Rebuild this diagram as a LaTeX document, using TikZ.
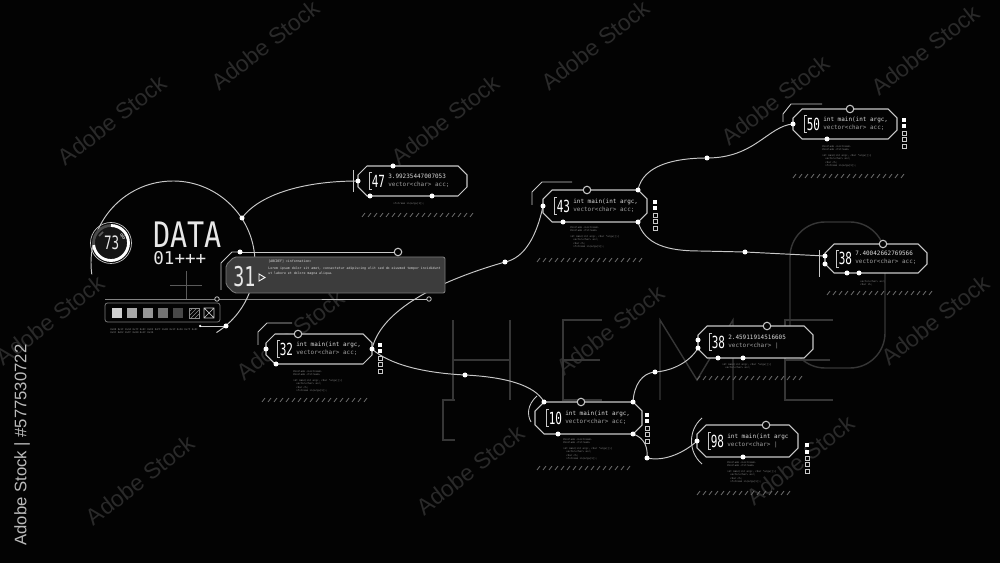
\documentclass[tikz,border=0pt]{standalone}
\usepackage{graphicx}
\usepackage{fontspec}
\setmainfont{DejaVu Sans Mono}
\newfontfamily\wmfont{Liberation Sans}
\usetikzlibrary{calc}
\definecolor{bg}{HTML}{030303}
\definecolor{ln}{HTML}{C8C8C8}
\definecolor{faint}{HTML}{363636}
\definecolor{hatchc}{HTML}{707070}
\definecolor{wm}{HTML}{2A2A2A}
\definecolor{codec}{HTML}{DADADA}
\definecolor{codec2}{HTML}{A0A0A0}
\definecolor{tinyc}{HTML}{8C8C8C}
\definecolor{panel}{HTML}{3C3C3C}
\definecolor{panelb}{HTML}{7A7A7A}
\definecolor{sw1}{HTML}{D0D0D0}
\definecolor{sw2}{HTML}{A8A8A8}
\definecolor{sw3}{HTML}{969696}
\definecolor{sw4}{HTML}{747474}
\definecolor{sw5}{HTML}{484848}
\definecolor{ringbg}{HTML}{151515}
\definecolor{ringdark}{HTML}{4A4A4A}
\definecolor{dimline}{HTML}{5A5A5A}
\definecolor{sidec}{HTML}{BBBBBB}
\definecolor{bright}{HTML}{E8E8E8}
\tikzset{
  wire/.style={draw=ln, line width=0.55pt},
  boxline/.style={draw=ln, line width=0.6pt, fill=bg},
  frameline/.style={draw=ln, line width=0.5pt},
  dotw/.style={circle, fill=white, draw=none, inner sep=0pt, minimum size=0.1cm},
  hring/.style={circle, fill=bg, draw=ln, line width=0.6pt, inner sep=0pt, minimum size=0.15cm},
  sring/.style={circle, fill=bg, draw=ln, line width=0.45pt, inner sep=0pt, minimum size=0.09cm},
  num/.style={font=\fontsize{9.5pt}{9.5pt}\selectfont, text=white, anchor=base west, inner sep=0pt},
  code/.style={font=\fontsize{3.4pt}{4.6pt}\selectfont, text=codec, anchor=north west, inner sep=0pt, align=left},
  tinytext/.style={font=\fontsize{1.4pt}{2.0pt}\selectfont, text=tinyc, anchor=north west, inner sep=0pt, align=left},
  paneltext/.style={font=\fontsize{1.85pt}{2.8pt}\selectfont, text=codec, anchor=north west, inner sep=0pt, align=left},
  faintline/.style={draw=faint, line width=0.8pt},
  wmark/.style={font=\wmfont\fontsize{13pt}{13pt}\selectfont, text=wm, rotate=38},
  sidetext/.style={font=\wmfont\fontsize{9.5pt}{9.5pt}\selectfont, text=sidec, rotate=90, anchor=west, inner sep=0pt},
}
\newcommand\hudnode[8]{%
  \path[boxline] ({#2+9},#3) -- ({#4-9},#3) -- (#4,{#3+9}) -- (#4,{#5-9}) -- ({#4-9},#5) -- ({#2+9},#5) -- (#2,{#5-9}) -- (#2,{#3+9}) -- cycle;
  \coordinate (#1-m) at ({#2},{(#3+#5)/2});
  \draw[frameline] ($(#1-m)+(14,-8.5)$) -- ++(-3,0) -- ++(0,17) -- ++(3,0);
  \node[num] (#1-num) at ($(#1-m)+(13.5,6.5)$) {\scalebox{0.66}[1]{#6}};
  \node[code] (#1-txt) at ($(#1-m)+(30,-7.5)$) {#7\\{\color{codec2}#8}};
}
\newcommand\hatchrow[3]{%
  \foreach \hi in {0,...,#2} {\draw[hatchc, line width=0.45pt] ({#1+6*\hi},{#3+2}) -- ({#1+6*\hi+3},{#3-2});}}
\newcommand\sqcol[2]{%
  \foreach \si in {0,1} {\fill[white] ({#1-2},{#2-2+6.5*\si}) rectangle ++(4,4);}
  \foreach \si in {2,3,4} {\draw[ln, line width=0.4pt] ({#1-2},{#2-2+6.5*\si}) rectangle ++(4,4);}}
\begin{document}
\begin{tikzpicture}[x=0.02cm,y=-0.02cm]
\fill[bg] (0,0) rectangle (1000,563);
\useasboundingbox (0,0) rectangle (1000,563);

% watermarks
\foreach \wx/\wy [count=\wi] in {112/120, 445/120, 775/100, 265/45, 595/45, 925/50, 50/320, 290/335, 610/330, 935/320, 140/480, 470/470, 800/460}
  {\node[wmark] (wm\wi) at (\wx,\wy) {Adobe Stock};}
\node[sidetext] (side) at (22,546) {Adobe Stock | \#577530722};

% faint background letters
\draw[faintline] (455,400) -- (443,400) -- (443,440) -- (455,440);
\draw[faintline] (453,320) -- (453,400);
\draw[faintline] (510,320) -- (510,400);
\draw[faintline] (453,360) -- (510,360);
\draw[faintline] (602,320) -- (563,320) -- (563,400) -- (602,400);
\draw[faintline] (563,360) -- (600,360);
\draw[faintline] (660,400) -- (660,320) -- (697,380) -- (733,320) -- (733,400);
\draw[faintline] (833,320) -- (785,320) -- (785,400) -- (833,400);
\draw[faintline] (785,360) -- (830,360);
\draw[faintline, rounded corners=0.7cm] (790,222) rectangle (885,368);

% left instrument cluster
\draw[wire] (173,263) ++(172:82) arc[start angle=172, end angle=418, radius=82];
\draw[dimline, line width=0.5pt] (170,285) -- (202,285);
\draw[dimline, line width=0.5pt] (186,271) -- (186,299);

\fill[ringbg] (111,243) circle[radius=17];
\draw[ringdark, line width=1.6pt] (111,243) circle[radius=17.5];
\draw[white, line width=1.6pt] (111,243) ++(-90:17.5) arc[start angle=-90, end angle=173, radius=17.5];
\draw[ln, line width=0.4pt] (111,243) circle[radius=20.5];
\draw[dimline, line width=1pt] (99,236) -- (103,232);
\node[anchor=base east, inner sep=0pt, font=\fontsize{10.5pt}{10.5pt}\selectfont, text=bright] (pct) at (119.5,250) {\scalebox{0.68}[1]{73}};
\node[anchor=base west, inner sep=0pt, font=\fontsize{4.5pt}{4.5pt}\selectfont, text=bright] (pcts) at (120,240) {\%};
\node[anchor=base west, inner sep=0pt, font=\fontsize{20pt}{20pt}\selectfont, text=bright] (data) at (153,248) {\scalebox{0.81}[1]{DATA}};
\node[anchor=base west, inner sep=0pt, font=\fontsize{10pt}{10pt}\selectfont, text=bright] (code01) at (153,265) {01+++};

\draw[panelb, line width=0.45pt, rounded corners=0.05cm] (105,303) rectangle (220,322);
\foreach \i in {1,...,5} {\fill[sw\i] ({112+15.3*(\i-1)},308) rectangle ++(10,10);}
\draw[tinyc, line width=0.4pt] (189,308) rectangle (199,318);
\draw[tinyc, line width=0.35pt] (189,312) -- (193,308) (189,316) -- (197,308) (191,318) -- (199,310) (195,318) -- (199,314);
\draw[ln, line width=0.4pt] (204,308) rectangle (214,318) (204,308) -- (214,318) (204,318) -- (214,308);
\node[tinytext] (bartext) at (110,328) {0x00 0x1F 0x3A 0x7F 0x9C 0xD2 0xFF 0x00 0x1F 0x3A 0x7F 0x9C\\0x9C 0xD2 0xFF 0x00 0x1F 0x3A};

% coordinates
\coordinate (dA) at (242,218);
\coordinate (dB) at (226,326);
\coordinate (dC) at (505,262);
\coordinate (dD) at (465,375);
\coordinate (dE) at (707,158);
\coordinate (dF) at (745,252);
\coordinate (dG) at (655,372);
\coordinate (dH) at (647,458);
\coordinate (dI) at (240,252);
\coordinate (dJ) at (200,326);
\coordinate (q31t) at (398,252);
\coordinate (q31a) at (217,299);
\coordinate (q31b) at (429,299);
\coordinate (p47w) at (358,181);
\coordinate (p32e) at (372,349);
\coordinate (p43w) at (543,206);
\coordinate (p43ne) at (638,190);
\coordinate (p43se) at (638,222);
\coordinate (p50w) at (793,124);
\coordinate (p38w) at (825,256);
\coordinate (p38Lw) at (698,348);
\coordinate (p10nw) at (544,402);
\coordinate (p10ne) at (633,402);
\coordinate (p10se) at (633,434);
\coordinate (p98w) at (697,441);
\coordinate (c8m) at (700,251);

% connectors
\draw[wire] (dA) .. controls (258,196) and (300,181) .. (p47w);
\draw[wire] (p32e) .. controls (380,315) and (425,285) .. (dC);
\draw[wire] (dC) .. controls (525,258) and (537,235) .. (p43w);
\draw[wire] (p32e) .. controls (390,365) and (425,373) .. (dD);
\draw[wire] (dD) .. controls (505,377) and (535,385) .. (p10nw);
\draw[wire] (p10ne) .. controls (634,385) and (642,373) .. (dG);
\draw[wire] (dG) .. controls (672,371) and (690,362) .. (p38Lw);
\draw[wire] (p10se) .. controls (645,438) and (648,448) .. (dH);
\draw[wire] (dH) .. controls (665,462) and (685,452) .. (p98w);
\draw[wire] (p43ne) .. controls (643,165) and (675,158) .. (dE);
\draw[wire] (dE) .. controls (755,158) and (768,126) .. (p50w);
\draw[wire] (p43se) .. controls (645,245) and (668,251) .. (c8m) -- (dF) -- (p38w);
\draw[frameline] (dJ) -- (dB);

% panel 31
\draw[frameline] (dI) -- (q31t);
\draw[frameline] (dI) -- (232,252) -- (221,263) -- (221,290);
\draw[frameline] (105,299) -- (q31a) -- (q31b);
\filldraw[fill=panel, draw=panelb, line width=0.5pt, rounded corners=0.04cm] (234,257) -- (445,257) -- (445,293) -- (234,293) -- (226,285) -- (226,265) -- cycle;
\node[anchor=base west, inner sep=0pt, font=\fontsize{15.5pt}{15.5pt}\selectfont, text=bright] (n31) at (233,287) {\scalebox{0.67}[1]{31}};
\draw[white, line width=0.5pt] (259,274) -- (265,277.5) -- (259,281) -- cycle;
\node[paneltext] (t31h) at (268,260) {[ABCDEF]  <information>};
\node[paneltext] (t31a) at (268,267) {Lorem ipsum dolor sit amet, consectetur adipiscing elit sed do eiusmod tempor incididunt\\ut labore et dolore magna aliqua.};

% outer frames
\draw[frameline] (353,170) -- (353,192);
\draw[frameline] (819,250) -- (819,277);
\draw[frameline] (258,345) -- (258,332) -- (267,323) -- (292,323);
\draw[frameline] (532,205) -- (532,192) -- (542,182) -- (572,182);
\draw[frameline] (783,122) -- (783,114) -- (791,104) -- (822,104);
\draw[frameline] (537,396) .. controls (527,405) and (527,415) .. (531,422);
\draw[frameline] (702,418) .. controls (688,430) and (688,452) .. (702,464);

% boxes
\hudnode{b47}{358}{166}{467}{196}{47}{3.99235447007053}{vector<char> acc;}
\hudnode{b32}{266}{334}{372}{364}{32}{int main(int argc,}{vector<char> acc;}
\hudnode{b43}{543}{190}{647}{222}{43}{int main(int argc,}{vector<char> acc;}
\hudnode{b50}{793}{109}{897}{139}{50}{int main(int argc,}{vector<char> acc;}
\hudnode{b38r}{825}{244}{927}{273}{38}{7.40042662769566}{vector<char> acc;}
\hudnode{b38l}{698}{326}{813}{358}{38}{2.45911914516605}{vector<char> |}
\hudnode{b10}{535}{402}{642}{434}{10}{int main(int argc,}{vector<char> acc;}
\hudnode{b98}{697}{425}{798}{457}{98}{int main(int argc}{vector<char> |}

% square columns
\sqcol{380}{345}
\sqcol{655}{202}
\sqcol{904}{120}
\sqcol{647}{415}
\sqcol{807}{445}

% hatching
\hatchrow{362}{18}{215}
\hatchrow{262}{17}{400}
\hatchrow{537}{17}{260}
\hatchrow{793}{18}{176}
\hatchrow{827}{17}{293}
\hatchrow{697}{17}{378}
\hatchrow{537}{15}{468}
\hatchrow{697}{15}{493}

% tiny code under boxes
\node[tinytext] (s47) at (393,202) {ifstream in(argv[1]);};
\node[tinytext] (s32) at (293,370) {\#include <iostream>\\\#include <fstream>\\[1.2pt]int main(int argc, char *argv[])\{\\\ \ vector<char> acc;\\\ \ char ch;\\\ \ ifstream in(argv[1]);};
\node[tinytext] (s43) at (570,226) {\#include <iostream>\\\#include <fstream>\\[1.2pt]int main(int argc, char *argv[])\{\\\ \ vector<char> acc;\\\ \ char ch;\\\ \ ifstream in(argv[1]);};
\node[tinytext] (s50) at (822,145) {\#include <iostream>\\\#include <fstream>\\[1.2pt]int main(int argc, char *argv[])\{\\\ \ vector<char> acc;\\\ \ char ch;\\\ \ ifstream in(argv[1]);};
\node[tinytext] (s10) at (563,438) {\#include <iostream>\\\#include <fstream>\\[1.2pt]int main(int argc, char *argv[])\{\\\ \ vector<char> acc;\\\ \ char ch;\\\ \ ifstream in(argv[1]);};
\node[tinytext] (s98) at (727,461) {\#include <iostream>\\\#include <fstream>\\[1.2pt]int main(int argc, char *argv[])\{\\\ \ vector<char> acc;\\\ \ char ch;\\\ \ ifstream in(argv[1]);};
\node[tinytext] (s38r) at (860,280) {vector<char> acc;\\char ch;};
\node[tinytext] (s38l) at (722,363) {int main(int argc, char *argv[])\{\\\ \ vector<char> acc;};

% dots
\foreach \d in {dA,dB,dC,dD,dE,dF,dG,dH,dI,p47w,p32e,p43w,p43ne,p43se,p50w,p38w,p38Lw,p10nw,p10ne,p10se,p98w}
  {\node[dotw] (dot-\d) at (\d) {};}
\node[dotw, minimum size=0.05cm] (dot-dJ) at (dJ) {};
\foreach \n/\x/\y in {e1/393/166, e2/370/196, e3/432/196, e4/266/349, e5/276/364, e6/563/222, e7/827/139, e8/825/264, e9/847/273, e10/859/273, e11/698/340, e12/718/358, e13/743/358, e14/558/434, e15/743/457}
  {\node[dotw] (\n) at (\x,\y) {};}
\foreach \n/\x/\y in {h1/298/334, h2/587/190, h3/850/109, h4/883/244, h5/767/326, h6/581/402, h7/766/425}
  {\node[hring] (\n) at (\x,\y) {};}
\node[hring] (ring-q31t) at (q31t) {};
\node[sring] (ring-q31a) at (q31a) {};
\node[sring] (ring-q31b) at (q31b) {};
\end{tikzpicture}
\end{document}
